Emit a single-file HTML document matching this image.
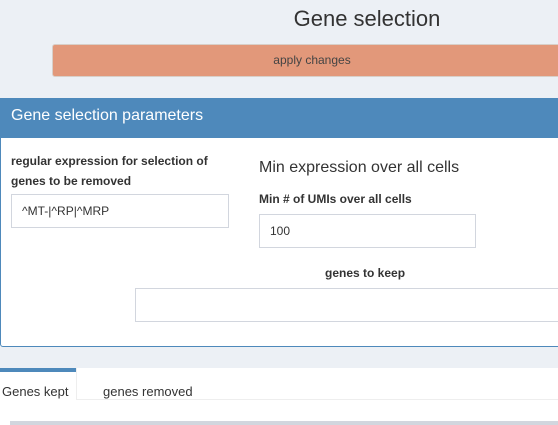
<html><head><style>
body{margin:0;width:558px;height:425px;overflow:hidden;background:#ecf0f5;font-family:"Liberation Sans",sans-serif;position:relative;color:#333}
div{position:absolute;box-sizing:border-box}
.in{background:#fff;border:1px solid #d2d6de;font-size:12px;padding:0 0 0 10px;display:flex;align-items:center}
.b{font-weight:bold;font-size:12px}
</style></head><body>
<div style="left:0;top:6px;width:734px;text-align:center;font-size:22px;color:#333">Gene selection</div>
<div style="left:52px;top:44px;width:520px;height:33px;background:#e2987a;border:1px solid #d8cfc8;border-radius:3px;font-size:12px;text-align:center;line-height:31px;color:#444">apply changes</div>
<div style="left:0;top:98px;width:570px;height:249px;background:#fff;border:1px solid #4e89bb;border-radius:3px"></div>
<div style="left:0;top:98px;width:570px;height:40px;background:#4e89bb;color:#fff;font-size:16px;padding:9px 0 0 11px">Gene selection parameters</div>
<div class="b" style="left:11px;top:151px;width:230px;line-height:20px">regular expression for selection of genes to be removed</div>
<div class="in" style="left:11px;top:194px;width:218px;height:34px">^MT-|^RP|^MRP</div>
<div style="left:259px;top:159px;font-size:16px">Min expression over all cells</div>
<div class="b" style="left:259px;top:192px">Min # of UMIs over all cells</div>
<div class="in" style="left:259px;top:214px;width:217px;height:34px">100</div>
<div class="b" style="left:325px;top:266px">genes to keep</div>
<div class="in" style="left:135px;top:288px;width:440px;height:34px"></div>
<div style="left:0;top:368px;width:558px;height:57px;background:#fff"></div>
<div style="left:0;top:368px;width:77px;height:4px;background:#4e89bb"></div>
<div style="left:76px;top:368px;width:1px;height:32px;background:#eee"></div>
<div style="left:77px;top:399px;width:481px;height:1px;background:#eee"></div>
<div style="left:2px;top:384px;font-size:13px">Genes kept</div>
<div style="left:103px;top:384px;font-size:13px">genes removed</div>
<div style="left:10px;top:421px;width:548px;height:4px;background:#d2d6de"></div>
</body></html>
